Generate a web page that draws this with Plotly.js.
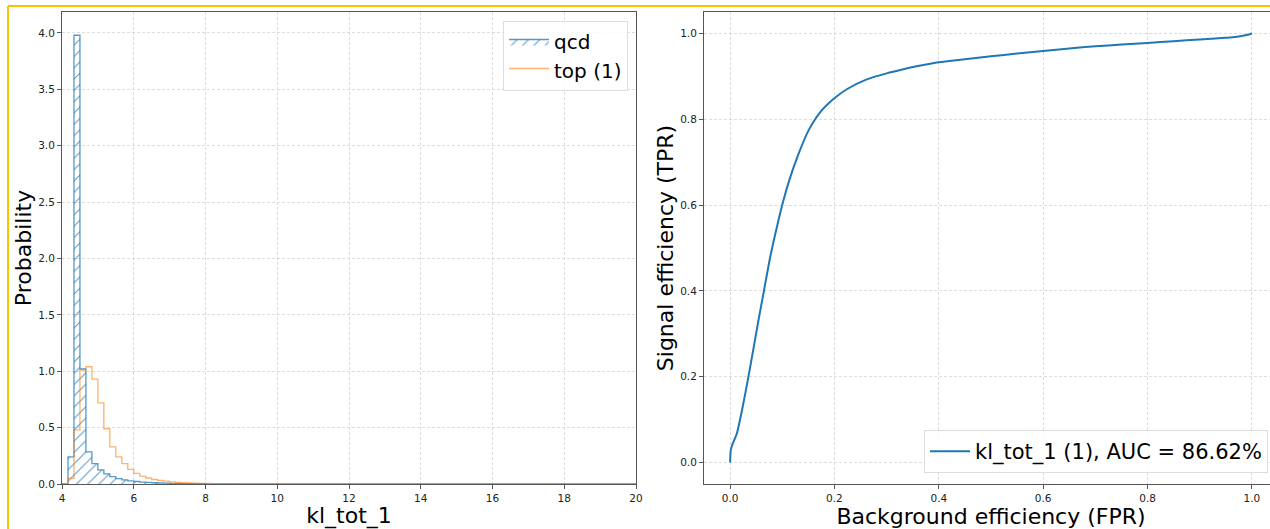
<!DOCTYPE html>
<html><head><meta charset="utf-8">
<script src="https://cdn.plot.ly/plotly-3.0.1.min.js"></script>
<style>html,body{margin:0;padding:0;overflow:hidden;background:#fff}#chart{width:1290px;height:529px}</style>
</head><body><div id="chart"></div>
<script>
// ---- histogram data (density per bin, bins of width 1/6 starting at 4.0) ----
const binStart = 4.0;
const binWidth = 1 / 6;
const nBins = 96;
const qcdRead = [0, 0.24, 3.98, 1.02, 0.285, 0.18, 0.125, 0.09, 0.065, 0.047, 0.036, 0.028,
  0.022, 0.017, 0.014, 0.011, 0.009, 0.007, 0.006, 0.005, 0.004, 0.003, 0.0025, 0.002,
  0.0016, 0.0013, 0.001, 0.0008, 0.0006, 0.0005, 0.0004, 0.0003, 0.0002, 0.0002, 0.0001];
const topRead = [0, 0.05, 0.48, 1.01, 1.04, 0.93, 0.72, 0.49, 0.33, 0.24, 0.18, 0.13,
  0.095, 0.07, 0.053, 0.04, 0.031, 0.025, 0.019, 0.015, 0.012, 0.01, 0.008, 0.006,
  0.005, 0.004, 0.003, 0.0025, 0.002, 0.0015, 0.0012, 0.001, 0.0008, 0.0006, 0.0005,
  0.0004, 0.0003, 0.0002, 0.0002, 0.0001];
const histLabels = ['qcd', 'top (1)'];
const xTicksHist = [4, 6, 8, 10, 12, 14, 16, 18, 20];

// ---- ROC curve data ----
const fpr = [0, 0.0005, 0.0013, 0.005, 0.0128, 0.024, 0.035, 0.0447, 0.0543, 0.065, 0.0767,
  0.0895, 0.102, 0.115, 0.131, 0.150, 0.1725, 0.198, 0.2236, 0.262, 0.30, 0.33, 0.36,
  0.40, 0.45, 0.50, 0.55, 0.60, 0.65, 0.70, 0.75, 0.80, 0.85, 0.90, 0.93, 0.963, 0.98, 0.994, 1.0];
const tpr = [0, 0.015, 0.029, 0.044, 0.067, 0.129, 0.199, 0.265, 0.331, 0.401, 0.478,
  0.548, 0.610, 0.664, 0.719, 0.773, 0.816, 0.847, 0.870, 0.893, 0.907, 0.916, 0.924,
  0.933, 0.940, 0.947, 0.953, 0.959, 0.965, 0.970, 0.974, 0.978, 0.982, 0.986, 0.988, 0.991, 0.994, 0.9977, 1.0];
const rocLabel = 'kl_tot_1 (1), AUC = 86.62%';

function pad(arr) { return arr.concat(new Array(nBins - arr.length).fill(0)); }
function stepXY(vals) {
  const x = [binStart], y = [0];
  for (let k = 0; k < vals.length; k++) { x.push(binStart + k * binWidth); y.push(vals[k]); }
  x.push(binStart + vals.length * binWidth); y.push(0);
  return {x, y};
}
const qcd = stepXY(pad(qcdRead));
const top1 = stepXY(pad(topRead));

const blue = 'rgba(31,119,180,0.75)';
const orange = 'rgba(255,127,14,0.6)';

const traces = [
  {type: 'scatter', mode: 'lines', x: qcd.x, y: qcd.y, name: histLabels[0],
   line: {shape: 'hv', color: blue, width: 1.3}, fill: 'tozeroy', fillcolor: 'rgba(0,0,0,0)',
   fillpattern: {shape: '/', size: 8, solidity: 0.13, fgcolor: blue, bgcolor: 'rgba(0,0,0,0)'},
   xaxis: 'x', yaxis: 'y', legend: 'legend'},
  {type: 'scatter', mode: 'lines', x: top1.x, y: top1.y, name: histLabels[1],
   line: {shape: 'hv', color: orange, width: 1.3}, fill: 'tozeroy', fillcolor: 'rgba(255,255,255,0)',
   xaxis: 'x', yaxis: 'y', legend: 'legend'},
  {type: 'scatter', mode: 'lines', x: fpr, y: tpr, name: rocLabel,
   line: {color: '#1f77b4', width: 2, shape: 'spline', smoothing: 0.6}, xaxis: 'x2', yaxis: 'y2', legend: 'legend2'}
];

const W = 1290, H = 529;
const axCommon = {
  showline: true, mirror: true, linecolor: '#555', linewidth: 1,
  ticks: 'outside', ticklen: 4, tickcolor: '#555', tickwidth: 1,
  showgrid: true, gridcolor: '#d4d4d4', griddash: '3px,2px', gridwidth: 0.8,
  zeroline: false, tickfont: {size: 10.5, color: '#222'}, automargin: false
};
const layout = {
  width: W, height: H, margin: {l: 0, r: 0, t: 0, b: 0},
  paper_bgcolor: '#fff', plot_bgcolor: '#fff',
  font: {family: 'DejaVu Sans, sans-serif', color: '#000'},
  xaxis: Object.assign({}, axCommon, {domain: [62 / W, 636 / W], range: [4, 20], tickvals: xTicksHist,
    anchor: 'y', title: {text: 'kl_tot_1', font: {size: 22}, standoff: 0}}),
  yaxis: Object.assign({}, axCommon, {domain: [45 / H, 517 / H], range: [0, 4.186], dtick: 0.5, tick0: 0,
    tickformat: '.1f', anchor: 'x', title: {text: 'Probability', font: {size: 22}, standoff: 0}}),
  xaxis2: Object.assign({}, axCommon, {domain: [704 / W, 1278 / W], range: [-0.05, 1.05], dtick: 0.2, tick0: 0,
    tickformat: '.1f', anchor: 'y2', title: {text: 'Background efficiency (FPR)', font: {size: 22}, standoff: 0}}),
  yaxis2: Object.assign({}, axCommon, {domain: [45 / H, 517 / H], range: [-0.05, 1.05], dtick: 0.2, tick0: 0,
    tickformat: '.1f', anchor: 'x2', title: {text: 'Signal efficiency (TPR)', font: {size: 22}, standoff: 0}}),
  legend: {x: 628 / W, xanchor: 'right', y: 1 - 21 / H, yanchor: 'top', font: {size: 20},
    bgcolor: 'rgba(255,255,255,0.85)', bordercolor: '#ddd', borderwidth: 1, itemwidth: 40},
  legend2: {x: 1268 / W, xanchor: 'right', y: 1 - 473 / H, yanchor: 'bottom', font: {size: 21},
    bgcolor: 'rgba(255,255,255,0.85)', bordercolor: '#ddd', borderwidth: 1, itemwidth: 40},
  shapes: [
    {type: 'line', xref: 'paper', yref: 'paper', x0: 8 / W, x1: 1, y0: 1 - 6 / H, y1: 1 - 6 / H,
     line: {color: '#FFC000', width: 2}},
    {type: 'line', xref: 'paper', yref: 'paper', x0: 8 / W, x1: 8 / W, y0: 1 - 6 / H, y1: 0,
     line: {color: '#FFC000', width: 2}}
  ]
};
Plotly.newPlot('chart', traces, layout, {displayModeBar: false, staticPlot: true});
</script></body></html>
